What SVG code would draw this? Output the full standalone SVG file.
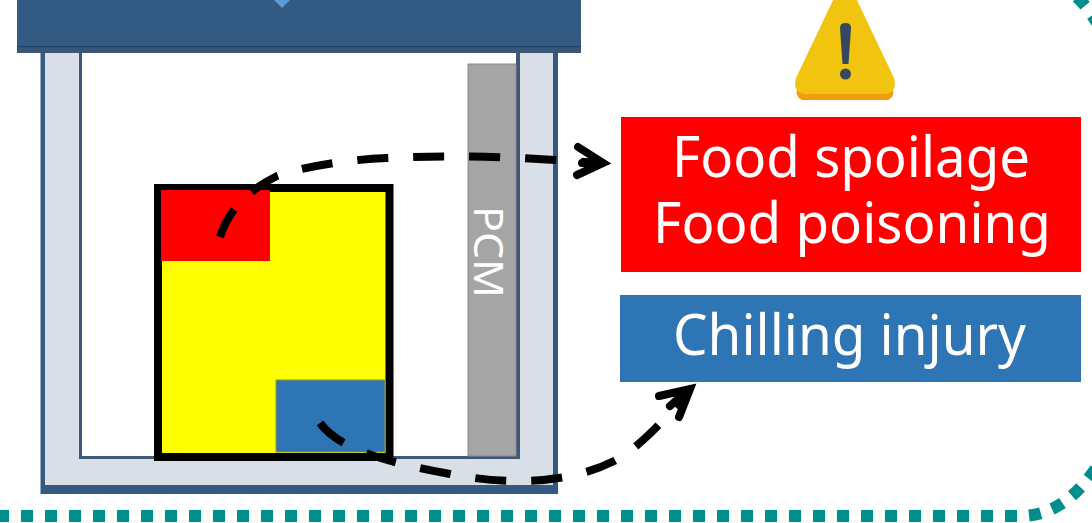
<svg xmlns="http://www.w3.org/2000/svg" width="1092" height="523" viewBox="0 0 1092 523">
<style>
.lbl{font-family:"Noto Sans","Open Sans",sans-serif;fill:#fff}
.big{font-size:56px}
.dot{fill:none;stroke:#008E8C;stroke-width:12;stroke-dasharray:12 12}
.conn{fill:none;stroke:#000;stroke-width:8;stroke-dasharray:31 25}
.head{fill:none;stroke:#000;stroke-width:8;stroke-linecap:round;stroke-linejoin:miter}
</style>
<rect width="1092" height="523" fill="#fff"/>
<g id="border">
<path class="dot" d="M-3 516H1020C1050 516 1075 500 1098 465"/>
<path class="dot" d="M1077 -3Q1089 8 1103 33"/>
</g>
<g id="container">
<rect x="40.500" y="47" width="517.500" height="447" fill="#345A82"/>
<rect x="45" y="47" width="508" height="438" fill="#D9DFE7"/>
<rect x="79" y="47" width="441" height="412" fill="#3F5878"/>
<rect x="82" y="47" width="434" height="409" fill="#fff"/>
</g>
<g id="lid">
<rect x="17" y="0" width="564" height="53" fill="#335A83"/>
<rect x="17" y="46" width="564" height="1.500" fill="#1F4468"/>
<rect x="17" y="47.500" width="564" height="5.500" fill="#3A5677"/>
<polygon points="273,-1 291,-1 282,8" fill="#5B9BD5"/>
</g>
<g id="pcm">
<rect x="468" y="64" width="48" height="392" fill="#A5A5A5" stroke="#8A8A8A" stroke-width="1"/>
<text class="lbl" transform="translate(474 206) rotate(90)" font-size="40" textLength="92" lengthAdjust="spacingAndGlyphs">PCM</text>
</g>
<g id="food">
<rect x="158" y="188" width="231.500" height="269" fill="#FFFF00" stroke="#000" stroke-width="8"/>
<rect x="161" y="190" width="109" height="71" fill="#FF0000"/>
<rect x="276" y="380" width="109" height="72" fill="#2E75B6" stroke="#8C9A30" stroke-width="1"/>
</g>
<g id="warning">
<path d="M845 -18L892 81Q896 90 888 94H802Q794 90 798 81Z" fill="#F39C12" transform="translate(0 6)"/>
<path d="M845 -25L894 78Q898 92 885 94H805Q792 92 796 78Z" fill="#F1C40F"/>
<path d="M840 28Q840 23 845.500 23Q851 23 851 28L848.500 64H842.500Z" fill="#34495E"/>
<circle cx="845.500" cy="74" r="5.500" fill="#34495E"/>
</g>
<g id="spoilage">
<rect x="621" y="117" width="460" height="155" fill="#FF0000"/>
<text class="lbl big" x="672" y="177" textLength="358" lengthAdjust="spacingAndGlyphs">Food spoilage</text>
<text class="lbl big" x="653" y="243" textLength="398" lengthAdjust="spacingAndGlyphs">Food poisoning</text>
</g>
<g id="chilling">
<rect x="620" y="295" width="461" height="87" fill="#2E75B6"/>
<text class="lbl big" x="673" y="355" textLength="353" lengthAdjust="spacingAndGlyphs">Chilling injury</text>
</g>
<g id="connectors">
<path class="conn" d="M220 237C228 212 245 192 277 176C300 168 340 160 387 158C430 156 480 155 555 160L600 163"/>
<path class="head" d="M578 147L603 163L577 175M582 163H598"/>
<path class="conn" d="M320 423C340 450 390 463 450 474C500 484 565 486 614 461C640 447 665 420 690 389"/>
<path class="head" d="M659 396L690 389L679 417M670 406L686 392"/>
</g>
</svg>
